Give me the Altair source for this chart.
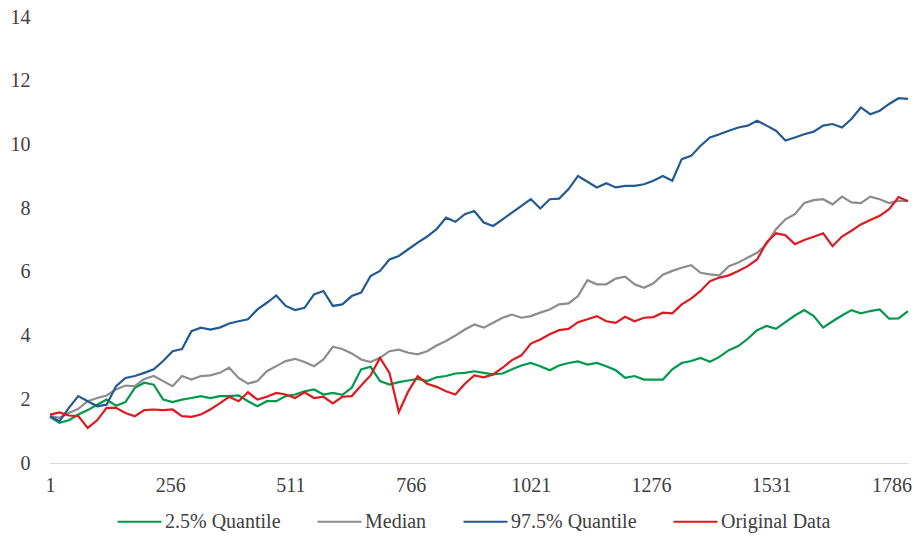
import altair as alt
import pandas as pd

# Sampling days shared by every series (one reading every 20 days)
DAYS = list(range(1, 1822, 20))

SERIES = ["2.5% Quantile", "Median", "97.5% Quantile", "Original Data"]
COLORS = ["#00994C", "#8C8C8C", "#245A92", "#DD1A1F"]

Q025 = [
    1.45, 1.26, 1.34, 1.52, 1.66, 1.83, 1.99, 1.80, 1.91, 2.36,
    2.52, 2.46, 1.99, 1.91, 1.99, 2.04, 2.10, 2.04, 2.10, 2.10,
    2.12, 1.94, 1.78, 1.94, 1.94, 2.10, 2.15, 2.25, 2.31, 2.15,
    2.20, 2.14, 2.36, 2.94, 3.02, 2.57, 2.46, 2.54, 2.59, 2.64,
    2.57, 2.69, 2.73, 2.81, 2.83, 2.88, 2.83, 2.78, 2.81, 2.94,
    3.06, 3.14, 3.04, 2.91, 3.06, 3.14, 3.19, 3.09, 3.14, 3.04,
    2.91, 2.67, 2.73, 2.62, 2.62, 2.62, 2.94, 3.14, 3.20, 3.30,
    3.18, 3.33, 3.54, 3.67, 3.90, 4.17, 4.30, 4.21, 4.42, 4.63,
    4.80, 4.61, 4.25, 4.45, 4.63, 4.80, 4.70, 4.77, 4.82, 4.53,
    4.54, 4.77,
]

MEDIAN = [
    1.47, 1.42, 1.57, 1.70, 1.94, 2.04, 2.12, 2.31, 2.43, 2.41,
    2.64, 2.73, 2.57, 2.41, 2.73, 2.62, 2.73, 2.75, 2.83, 2.99,
    2.67, 2.49, 2.57, 2.88, 3.04, 3.20, 3.27, 3.17, 3.04, 3.25,
    3.65, 3.58, 3.44, 3.25, 3.17, 3.30, 3.51, 3.56, 3.46, 3.41,
    3.51, 3.69, 3.83, 4.00, 4.19, 4.35, 4.25, 4.40, 4.56, 4.66,
    4.56, 4.61, 4.72, 4.82, 4.98, 5.01, 5.24, 5.74, 5.61, 5.61,
    5.79, 5.85, 5.61, 5.50, 5.64, 5.91, 6.03, 6.13, 6.21, 5.97,
    5.92, 5.89, 6.18, 6.29, 6.45, 6.60, 6.87, 7.34, 7.65, 7.81,
    8.16, 8.25, 8.28, 8.12, 8.36, 8.18, 8.16, 8.36, 8.28, 8.16,
    8.23, 8.23,
]

Q975 = [
    1.47, 1.31, 1.73, 2.10, 1.94, 1.78, 1.83, 2.41, 2.67, 2.73,
    2.83, 2.94, 3.20, 3.51, 3.58, 4.14, 4.25, 4.19, 4.25, 4.38,
    4.45, 4.51, 4.82, 5.03, 5.26, 4.93, 4.80, 4.87, 5.29, 5.40,
    4.93, 4.98, 5.24, 5.35, 5.87, 6.03, 6.39, 6.50, 6.71, 6.92,
    7.11, 7.34, 7.70, 7.57, 7.81, 7.91, 7.55, 7.44, 7.65, 7.86,
    8.07, 8.28, 7.99, 8.28, 8.30, 8.60, 9.01, 8.83, 8.65, 8.78,
    8.65, 8.70, 8.70, 8.75, 8.86, 9.01, 8.86, 9.54, 9.64, 9.96,
    10.22, 10.32, 10.43, 10.53, 10.59, 10.74, 10.59, 10.43, 10.12, 10.22,
    10.32, 10.40, 10.59, 10.64, 10.53, 10.80, 11.16, 10.95, 11.06, 11.27,
    11.45, 11.43,
]

ORIGINAL = [
    1.52, 1.59, 1.49, 1.47, 1.10, 1.34, 1.73, 1.73, 1.57, 1.47,
    1.66, 1.68, 1.66, 1.68, 1.47, 1.45, 1.52, 1.68, 1.87, 2.08,
    1.94, 2.22, 1.99, 2.08, 2.20, 2.15, 2.04, 2.22, 2.04, 2.08,
    1.87, 2.08, 2.10, 2.43, 2.75, 3.30, 2.83, 1.60, 2.25, 2.73,
    2.49, 2.39, 2.25, 2.15, 2.49, 2.75, 2.69, 2.78, 2.99, 3.23,
    3.38, 3.75, 3.88, 4.04, 4.17, 4.21, 4.42, 4.51, 4.61, 4.45,
    4.40, 4.59, 4.45, 4.56, 4.58, 4.72, 4.70, 4.98, 5.16, 5.40,
    5.71, 5.82, 5.89, 6.03, 6.18, 6.39, 6.92, 7.21, 7.15, 6.87,
    7.00, 7.10, 7.21, 6.81, 7.11, 7.29, 7.49, 7.63, 7.76, 7.97,
    8.35, 8.22,
]

X_TICKS = [1, 256, 511, 766, 1021, 1276, 1531, 1786]
Y_TICKS = [0, 2, 4, 6, 8, 10, 12, 14]

rows = []
for name, values in zip(SERIES, [Q025, MEDIAN, Q975, ORIGINAL]):
    for day, value in zip(DAYS, values):
        rows.append({"day": day, "value": value, "series": name})
df = pd.DataFrame(rows)

FONT = "Liberation Serif"
TEXT_COLOR = "#404040"

chart = (
    alt.Chart(df)
    .mark_line(strokeWidth=2.2)
    .encode(
        x=alt.X(
            "day:Q",
            scale=alt.Scale(domain=[1, 1821], nice=False, zero=False),
            axis=alt.Axis(
                values=X_TICKS,
                format="d",
                title=None,
                grid=False,
                ticks=False,
                domainColor="#D9D9D9",
                domainWidth=1,
                labelPadding=12,
                labelFlush=False,
            ),
        ),
        y=alt.Y(
            "value:Q",
            scale=alt.Scale(domain=[0, 14], nice=False),
            axis=alt.Axis(
                values=Y_TICKS,
                title=None,
                grid=False,
                ticks=False,
                domain=False,
                labelPadding=20,
            ),
        ),
        color=alt.Color(
            "series:N",
            scale=alt.Scale(domain=SERIES, range=COLORS),
            legend=alt.Legend(
                title=None,
                orient="none",
                direction="horizontal",
                legendX=66,
                legendY=481,
                symbolType="stroke",
                symbolSize=1936,
                symbolStrokeWidth=2.2,
                labelOffset=2,
                columnPadding=32,
                padding=0,
            ),
        ),
    )
    .properties(
        width=858,
        height=446,
        autosize=alt.AutoSizeParams(type="none"),
        padding={"left": 50, "top": 17, "right": 6, "bottom": 81},
    )
    .configure_view(stroke=None)
    .configure_axis(labelFont=FONT, labelFontSize=20, labelColor=TEXT_COLOR)
    .configure_legend(labelFont=FONT, labelFontSize=20, labelColor=TEXT_COLOR)
)

chart.save("out.html", embed_options={"renderer": "svg", "actions": False})
